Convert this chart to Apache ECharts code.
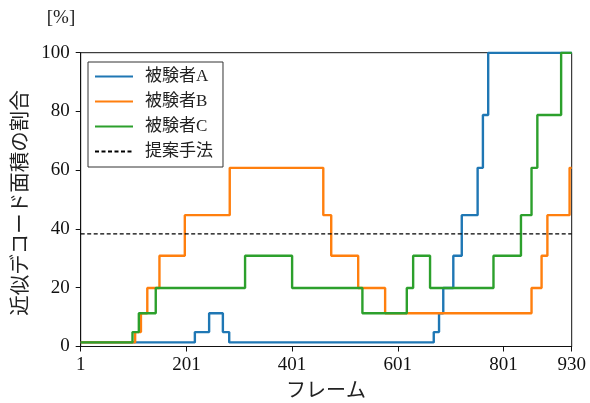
<!DOCTYPE html>
<html>
<head>
<meta charset="utf-8">
<script src="https://cdn.jsdelivr.net/npm/echarts@6/dist/echarts.min.js"></script>
<style>html,body{margin:0;padding:0;background:#fff;}#c{width:590px;height:403px;}</style>
</head>
<body>
<div id="c"></div>
<script>
const seriesNames = ['被験者A', '被験者B', '被験者C', '提案手法'];
const framesA = [1, 217, 244, 270, 282, 669, 679, 687, 706, 722, 752, 762, 772, 930];
const valuesA = [1.4, 4.9, 11.3, 4.9, 1.4, 4.9, 11.3, 19.9, 30.9, 44.7, 60.8, 78.8, 100, 100];
const framesB = [1, 104, 115, 127, 150, 198, 283, 460, 475, 526, 577, 854, 873, 884, 926, 930];
const valuesB = [1.4, 4.9, 11.3, 19.9, 30.9, 44.7, 60.8, 44.7, 30.9, 19.9, 11.3, 19.9, 30.9, 44.7, 60.8, 60.8];
const framesC = [1, 99, 111, 143, 312, 401, 534, 618, 630, 662, 782, 834, 854, 865, 910, 930];
const valuesC = [1.4, 4.9, 11.3, 19.9, 30.9, 19.9, 11.3, 19.9, 30.9, 19.9, 30.9, 44.7, 60.8, 78.8, 100, 100];
const proposedFrames = [1, 930];
const proposedValue = 38.3;
const xTicks = [1, 201, 401, 601, 801, 930];
const yMin = 0, yMax = 100, yInterval = 20;
const xLabel = 'フレーム';
const yLabel = '近似デコード面積の割合';
const yUnit = '[%]';

const SERIF = '"Liberation Serif", "Noto Sans CJK JP", serif';
const zip = (f, v) => f.map((x, i) => [x, v[i]]);

const chart = echarts.init(document.getElementById('c'), null, {renderer: 'canvas'});
const lineS = (name, data, color) => ({
  name, type: 'line', step: 'end', data, symbol: 'none', showSymbol: false,
  lineStyle: {color, width: 2.4}, itemStyle: {color}, animation: false, clip: true
});
chart.setOption({
  animation: false,
  backgroundColor: '#fff',
  grid: {left: 80.7, right: 18.3, top: 52.7, bottom: 56.5, show: true, borderColor: '#111', borderWidth: 1, containLabel: false},
  legend: {
    orient: 'vertical', left: 88, top: 62,
    padding: [6, 10, 7, 6],
    itemWidth: 38, itemHeight: 17, itemGap: 8,
    borderColor: '#333', borderWidth: 1, backgroundColor: '#fff',
    itemStyle: {opacity: 0},
    textStyle: {fontFamily: SERIF, fontSize: 17, color: '#222', lineHeight: 17, padding: [0, 0, 0, 7]},
    data: seriesNames
  },
  xAxis: {
    type: 'value', min: 1, max: 930,
    axisLine: {show: true, lineStyle: {color: '#111', width: 1}},
    axisTick: {show: true, length: 5, customValues: xTicks, lineStyle: {color: '#111'}},
    axisLabel: {customValues: xTicks, fontFamily: SERIF, fontSize: 19, color: '#111', margin: 9},
    splitLine: {show: false}
  },
  yAxis: {
    type: 'value', min: yMin, max: yMax, interval: yInterval,
    axisLine: {show: true, lineStyle: {color: '#111', width: 1}},
    axisTick: {show: true, length: 5, lineStyle: {color: '#111'}},
    axisLabel: {fontFamily: SERIF, fontSize: 19, color: '#111', margin: 11},
    splitLine: {show: false}
  },
  graphic: [
    {type: 'text', style: {text: xLabel, x: 326, y: 392, fontFamily: SERIF, fontSize: 20, fill: '#222', align: 'center', verticalAlign: 'middle'}},
    {type: 'text', x: 22, y: 203, rotation: Math.PI / 2, style: {text: yLabel, x: 0, y: 0, fontFamily: SERIF, fontSize: 20.5, fill: '#222', align: 'center', verticalAlign: 'middle'}},
    {type: 'text', style: {text: yUnit, x: 61, y: 18, fontFamily: SERIF, fontSize: 19, fill: '#222', align: 'center', verticalAlign: 'middle'}}
  ],
  series: [
    lineS(seriesNames[0], zip(framesA, valuesA), '#1f77b4'),
    lineS(seriesNames[1], zip(framesB, valuesB), '#ff7f0e'),
    lineS(seriesNames[2], zip(framesC, valuesC), '#2ca02c'),
    {
      name: seriesNames[3], type: 'line', data: proposedFrames.map(f => [f, proposedValue]),
      symbol: 'none', showSymbol: false, animation: false,
      lineStyle: {color: '#000', width: 1.2, type: [4, 2.5]}, itemStyle: {color: '#000'}
    }
  ]
});
</script>
</body>
</html>
